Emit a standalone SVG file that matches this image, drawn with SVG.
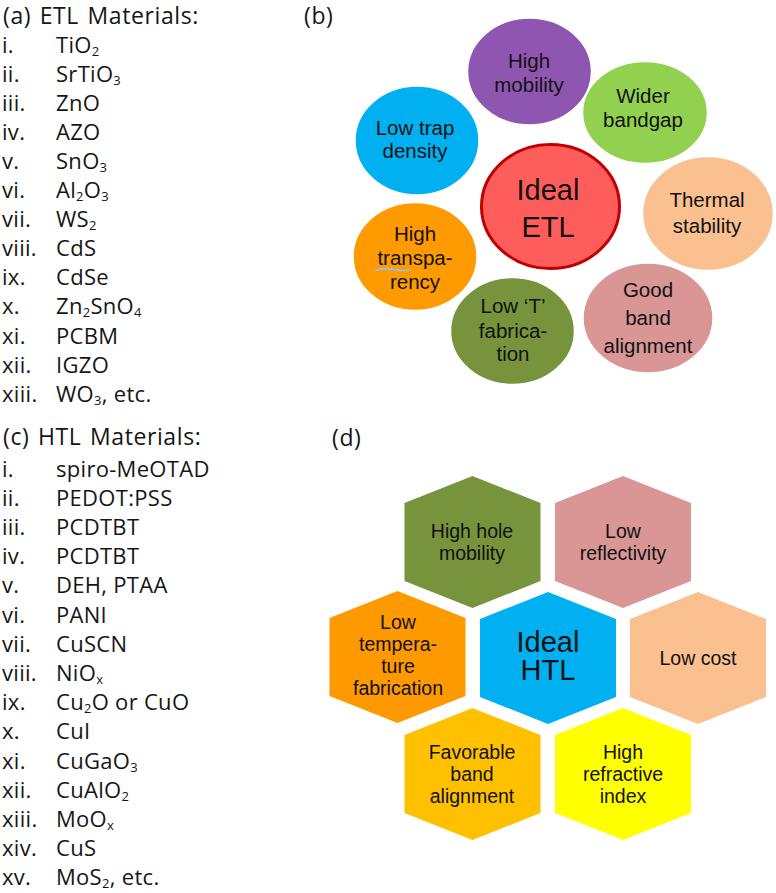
<svg xmlns="http://www.w3.org/2000/svg" width="776" height="893" viewBox="0 0 776 893">
<style>
.lst{font-family:"Open Sans","Noto Sans",sans-serif;font-size:22px;fill:#161616;letter-spacing:0.3px}
.hd{font-size:23px;letter-spacing:0.6px}
.sub{font-size:13px}
.lbl{font-family:"Liberation Sans",Arial,sans-serif;font-size:20.5px;fill:#111;text-anchor:middle}
.big{font-size:29px}
.hx{font-size:19.5px}
.bub{stroke:#fff;stroke-width:1.5}
</style>
<rect width="776" height="893" fill="#fff"/>
<g id="connectors"/>
<g id="panel-a" class="lst">
<text class="hd" x="3" y="24" word-spacing="2">(a) ETL Materials:</text>
<text x="2" y="52.5">i.</text><text x="56" y="52.5">TiO<tspan class="sub" dy="3">2</tspan></text>
<text x="2" y="81.6">ii.</text><text x="56" y="81.6">SrTiO<tspan class="sub" dy="3">3</tspan></text>
<text x="2" y="110.7">iii.</text><text x="56" y="110.7">ZnO</text>
<text x="2" y="139.8">iv.</text><text x="56" y="139.8">AZO</text>
<text x="2" y="168.9">v.</text><text x="56" y="168.9">SnO<tspan class="sub" dy="3">3</tspan></text>
<text x="2" y="198">vi.</text><text x="56" y="198">Al<tspan class="sub" dy="3">2</tspan><tspan dy="-3">O</tspan><tspan class="sub" dy="3">3</tspan></text>
<text x="2" y="227.1">vii.</text><text x="56" y="227.1">WS<tspan class="sub" dy="3">2</tspan></text>
<text x="2" y="256.2">viii.</text><text x="56" y="256.2">CdS</text>
<text x="2" y="285.3">ix.</text><text x="56" y="285.3">CdSe</text>
<text x="2" y="314.4">x.</text><text x="56" y="314.4">Zn<tspan class="sub" dy="3">2</tspan><tspan dy="-3">SnO</tspan><tspan class="sub" dy="3">4</tspan></text>
<text x="2" y="343.5">xi.</text><text x="56" y="343.5">PCBM</text>
<text x="2" y="372.6">xii.</text><text x="56" y="372.6">IGZO</text>
<text x="2" y="401.7">xiii.</text><text x="56" y="401.7">WO<tspan class="sub" dy="3">3</tspan><tspan dy="-3">, etc.</tspan></text>
</g>
<g id="panel-c" class="lst">
<text class="hd" x="3" y="445" word-spacing="2">(c) HTL Materials:</text>
<text x="2" y="476.5">i.</text><text x="56" y="476.5">spiro-MeOTAD</text>
<text x="2" y="505.7">ii.</text><text x="56" y="505.7">PEDOT:PSS</text>
<text x="2" y="534.9">iii.</text><text x="56" y="534.9">PCDTBT</text>
<text x="2" y="564.1">iv.</text><text x="56" y="564.1">PCDTBT</text>
<text x="2" y="593.3">v.</text><text x="56" y="593.3">DEH, PTAA</text>
<text x="2" y="622.5">vi.</text><text x="56" y="622.5">PANI</text>
<text x="2" y="651.7">vii.</text><text x="56" y="651.7">CuSCN</text>
<text x="2" y="680.9">viii.</text><text x="56" y="680.9">NiO<tspan class="sub" dy="3">x</tspan></text>
<text x="2" y="710.1">ix.</text><text x="56" y="710.1">Cu<tspan class="sub" dy="3">2</tspan><tspan dy="-3">O or CuO</tspan></text>
<text x="2" y="739.3">x.</text><text x="56" y="739.3">CuI</text>
<text x="2" y="768.5">xi.</text><text x="56" y="768.5">CuGaO<tspan class="sub" dy="3">3</tspan></text>
<text x="2" y="797.7">xii.</text><text x="56" y="797.7">CuAlO<tspan class="sub" dy="3">2</tspan></text>
<text x="2" y="826.9">xiii.</text><text x="56" y="826.9">MoO<tspan class="sub" dy="3">x</tspan></text>
<text x="2" y="856.1">xiv.</text><text x="56" y="856.1">CuS</text>
<text x="2" y="885.3">xv.</text><text x="56" y="885.3">MoS<tspan class="sub" dy="3">2</tspan><tspan dy="-3">, etc.</tspan></text>
</g>
<g id="panel-b">
<text class="lst hd" x="304" y="24">(b)</text>
<g id="high-mobility"><ellipse class="bub" cx="529.5" cy="71.5" rx="62" ry="53.5" fill="#8F56B1"/><text class="lbl" x="529" y="68">High</text><text class="lbl" x="529" y="92">mobility</text></g>
<g id="wider-bandgap"><ellipse class="bub" cx="645" cy="112.5" rx="62.5" ry="51" fill="#92D050"/><text class="lbl" x="643" y="103">Wider</text><text class="lbl" x="643" y="127">bandgap</text></g>
<g id="low-trap-density"><ellipse class="bub" cx="417" cy="140.5" rx="62" ry="54.5" fill="#00B0F0"/><text class="lbl" x="415" y="135">Low trap</text><text class="lbl" x="415" y="158">density</text></g>
<g id="ideal-etl"><ellipse cx="550.5" cy="206.5" rx="69" ry="62" fill="#FF5C5C" stroke="#C00000" stroke-width="3"/><text class="lbl big" x="548" y="200">Ideal</text><text class="lbl big" x="548" y="237">ETL</text></g>
<g id="thermal-stability"><ellipse class="bub" cx="708" cy="213.5" rx="65.5" ry="57" fill="#FAC090"/><text class="lbl" x="707" y="207">Thermal</text><text class="lbl" x="707" y="233">stability</text></g>
<g id="high-transparency"><ellipse class="bub" cx="415" cy="256.5" rx="62" ry="54" fill="#FF9A00"/><text class="lbl" x="415" y="241">High</text><text class="lbl" x="415" y="265">transpa-</text><text class="lbl" x="415" y="289">rency</text><path d="M375,270.5 C382,268 390,268.5 397,270 C402,271 407,270.5 411,269.5" fill="none" stroke="#9DBCE3" stroke-width="1.8"/></g>
<g id="low-t-fabrication"><ellipse class="bub" cx="512.5" cy="331" rx="62" ry="53.5" fill="#77933C"/><text class="lbl" x="513" y="313">Low ‘T’</text><text class="lbl" x="513" y="338">fabrica-</text><text class="lbl" x="513" y="361">tion</text></g>
<g id="good-band-alignment"><ellipse class="bub" cx="648" cy="318" rx="65" ry="55" fill="#D99694"/><text class="lbl" x="648" y="297">Good</text><text class="lbl" x="648" y="325">band</text><text class="lbl" x="648" y="353">alignment</text></g>
</g>
<defs><path id="hex" d="M0,-66 L68,-39 L68,39 L0,66 L-68,39 L-68,-39 Z"/></defs>
<g id="panel-d">
<text class="lst hd" x="332" y="446">(d)</text>
<g id="high-hole-mobility"><use href="#hex" x="472.5" y="542" fill="#77933C"/><text class="lbl hx" x="472" y="538">High hole</text><text class="lbl hx" x="472" y="560">mobility</text></g>
<g id="low-reflectivity"><use href="#hex" x="623" y="542" fill="#D99694"/><text class="lbl hx" x="623" y="538">Low</text><text class="lbl hx" x="623" y="560">reflectivity</text></g>
<g id="low-temp-fabrication"><use href="#hex" x="397.5" y="657" fill="#FF9900"/><text class="lbl hx" x="398" y="629">Low</text><text class="lbl hx" x="398" y="651">tempera-</text><text class="lbl hx" x="398" y="673">ture</text><text class="lbl hx" x="398" y="695">fabrication</text></g>
<g id="ideal-htl"><use href="#hex" x="548" y="658" fill="#00B0F0"/><text class="lbl big" x="548" y="652">Ideal</text><text class="lbl big" x="548" y="680">HTL</text></g>
<g id="low-cost"><use href="#hex" x="698" y="658" fill="#FAC090"/><text class="lbl hx" x="698" y="665">Low cost</text></g>
<g id="favorable-band-alignment"><use href="#hex" x="472.5" y="774" fill="#FFC000"/><text class="lbl hx" x="472" y="759">Favorable</text><text class="lbl hx" x="472" y="781">band</text><text class="lbl hx" x="472" y="803">alignment</text></g>
<g id="high-refractive-index"><use href="#hex" x="623" y="774" fill="#FFFF00"/><text class="lbl hx" x="623" y="759">High</text><text class="lbl hx" x="623" y="781">refractive</text><text class="lbl hx" x="623" y="803">index</text></g>
</g>
</svg>
